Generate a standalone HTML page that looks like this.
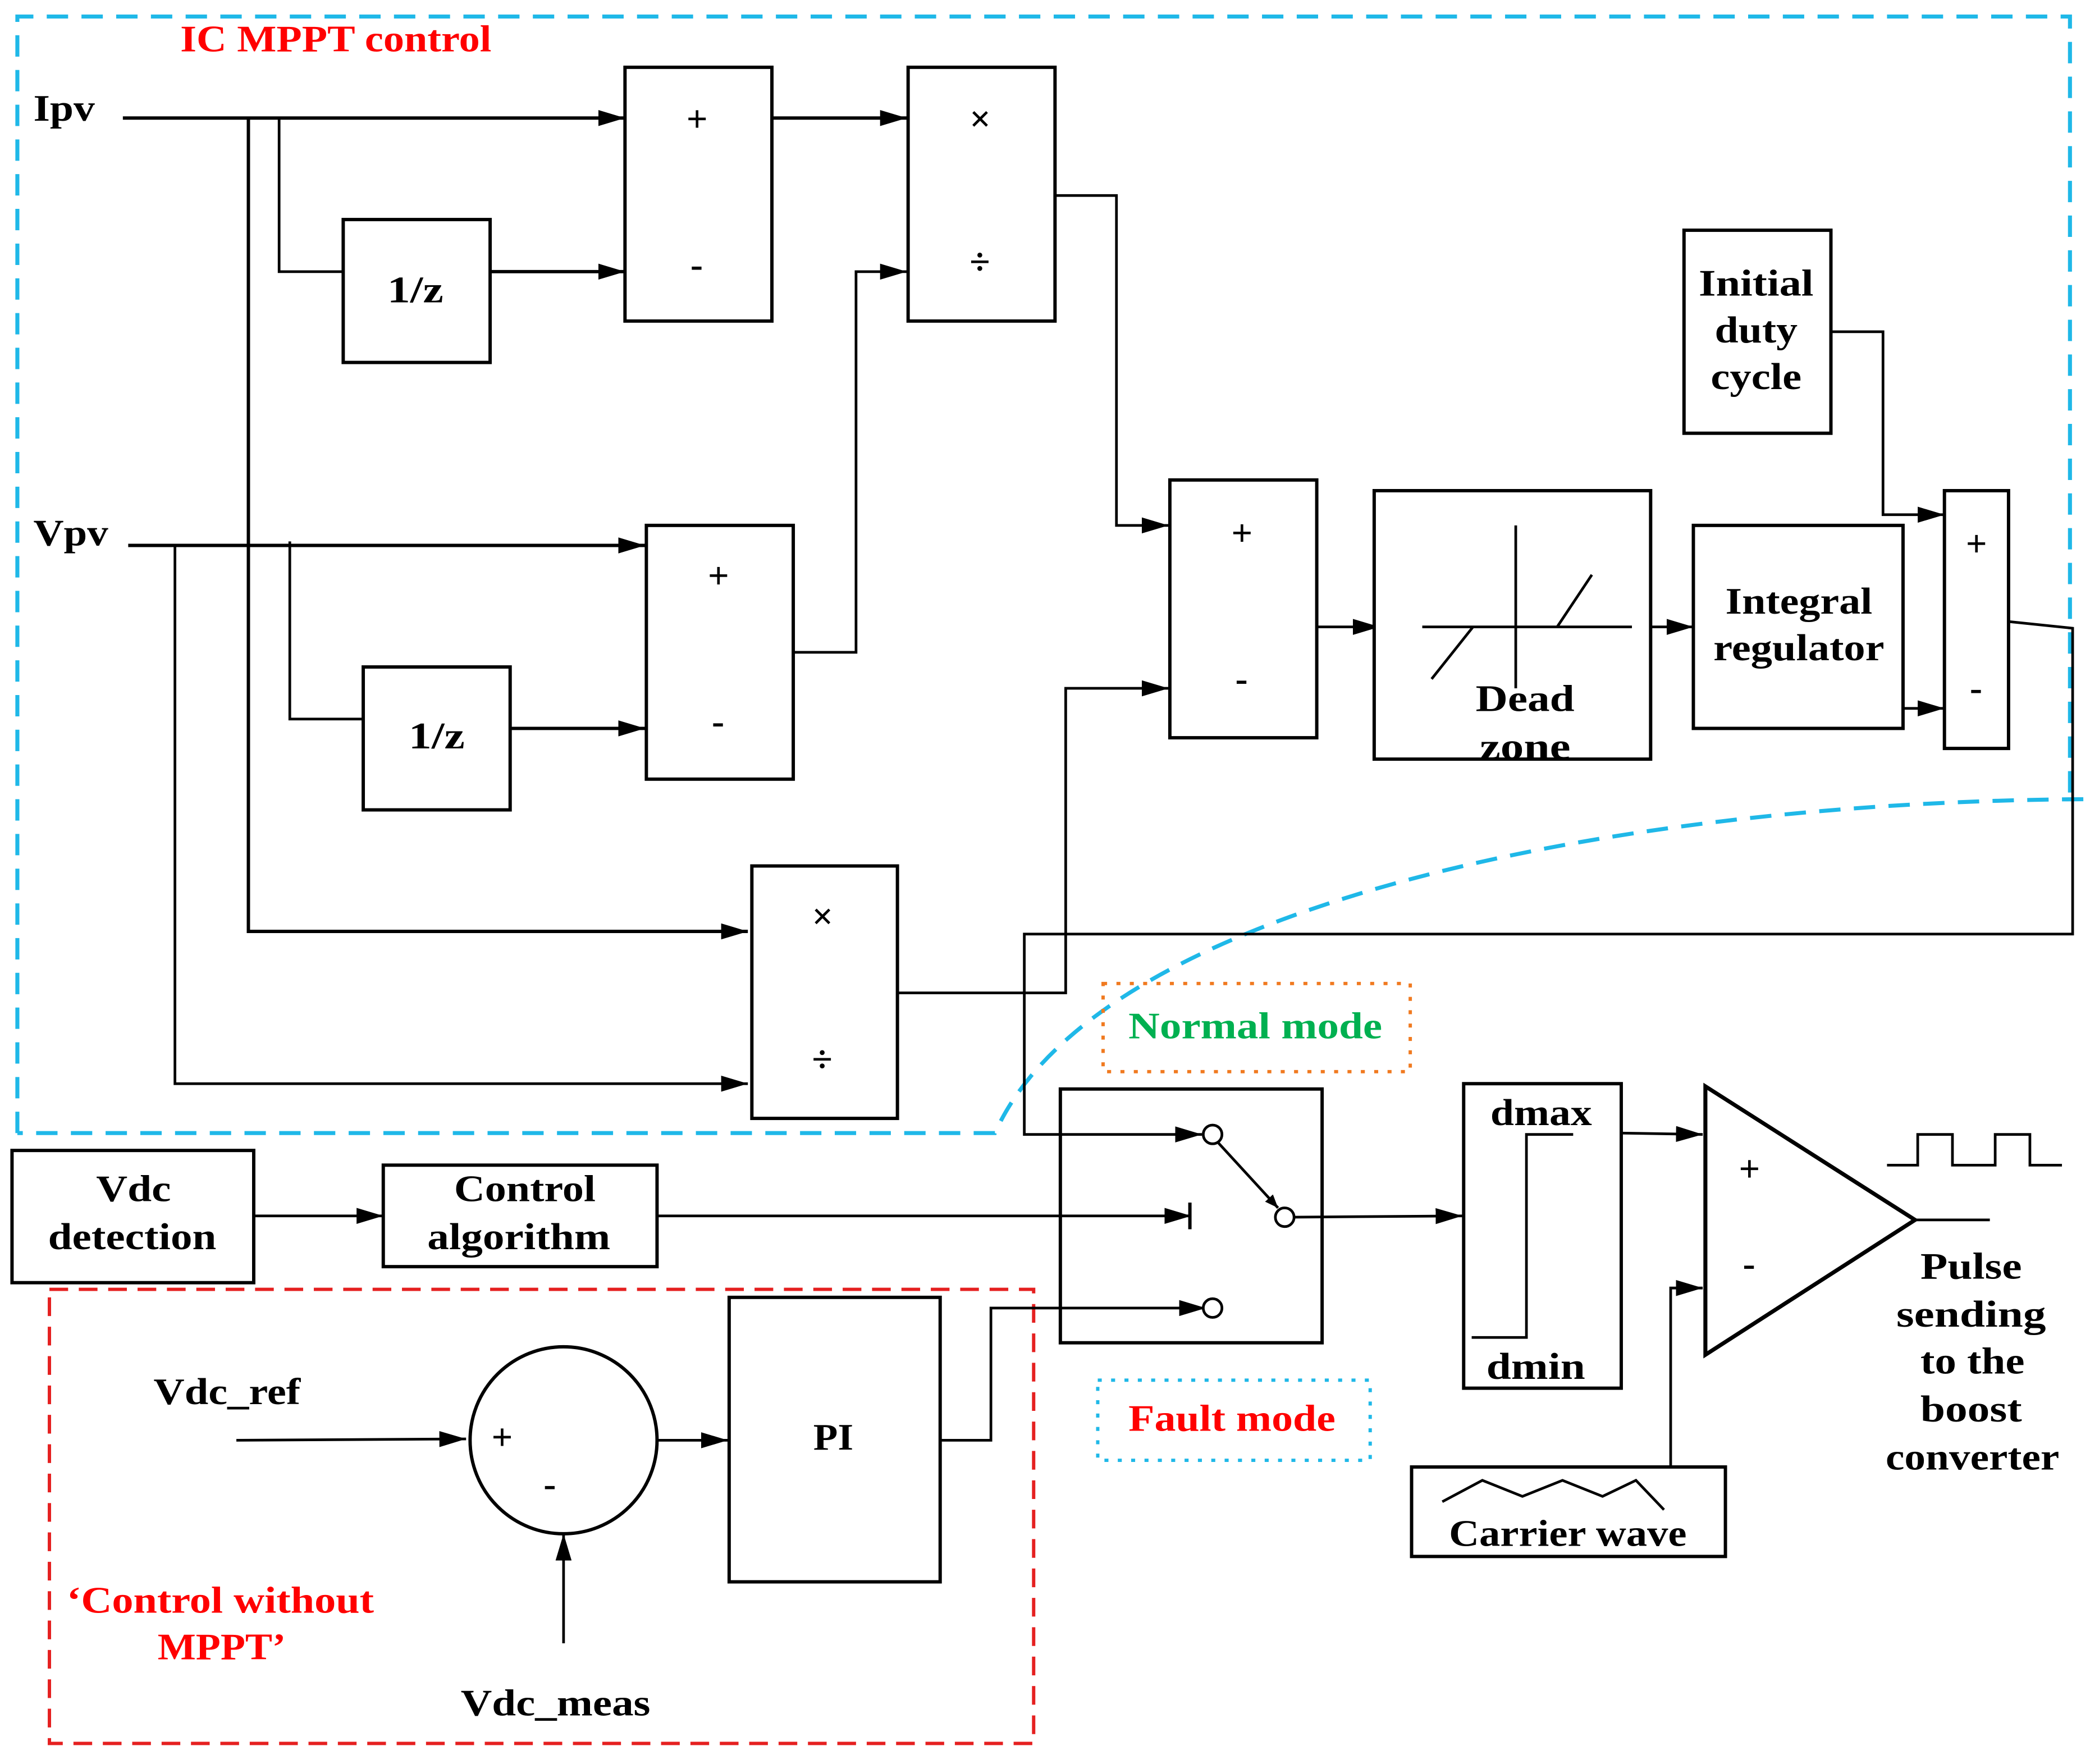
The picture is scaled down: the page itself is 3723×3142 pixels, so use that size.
<!DOCTYPE html>
<html><head><meta charset="utf-8"><style>html,body{margin:0;padding:0;background:#fff}svg{display:block}</style></head>
<body>
<svg xmlns="http://www.w3.org/2000/svg" width="3723" height="3142" viewBox="0 0 1565 1320">
<defs>
<marker id="a" markerWidth="10" markerHeight="8" refX="10" refY="4" orient="auto" markerUnits="userSpaceOnUse" viewBox="0 0 10 8"><path d="M0,0 L10,4 L0,8 Z" fill="#000"/></marker>
<marker id="b" markerWidth="20" markerHeight="12" refX="20" refY="6" orient="auto" markerUnits="userSpaceOnUse" viewBox="0 0 20 12"><path d="M0,0 L20,6 L0,12 Z" fill="#000"/></marker>
</defs>
<style>
text{font-family:"Liberation Serif",serif;font-weight:bold;font-size:28px}
.l{fill:none;stroke:#000;stroke-width:2.5}
.t{fill:none;stroke:#000;stroke-width:2}
.bx{fill:#fff;stroke:#000;stroke-width:2.5}
</style>
<path d="M13,848 L13,12 L1550,12 L1550,598" fill="none" stroke="#1fb8e8" stroke-width="3" stroke-dasharray="16,10"/>
<path d="M1560,598 C1200,600 820,680 745,848 L13,848" fill="none" stroke="#1fb8e8" stroke-width="3" stroke-dasharray="16,10"/>
<text x="135" y="38" fill="#f00" textLength="233" lengthAdjust="spacingAndGlyphs">IC MPPT control</text>
<rect x="37" y="965" width="737" height="340" fill="none" stroke="#e52020" stroke-width="2.5" stroke-dasharray="14,8"/>
<text x="50" y="1207" fill="#f00" textLength="230" lengthAdjust="spacingAndGlyphs">‘Control without</text>
<text x="118" y="1242" fill="#f00" textLength="96" lengthAdjust="spacingAndGlyphs">MPPT’</text>
<rect x="826" y="736" width="230" height="66" fill="none" stroke="#f07a20" stroke-width="2.5" stroke-dasharray="3,7"/>
<text x="845" y="777" fill="#00b050" textLength="190" lengthAdjust="spacingAndGlyphs">Normal mode</text>
<rect x="822" y="1033" width="204" height="60" fill="none" stroke="#1fb8e8" stroke-width="2.5" stroke-dasharray="3,7"/>
<text x="845" y="1071" fill="#f00" textLength="155" lengthAdjust="spacingAndGlyphs">Fault mode</text>

<text x="25" y="90" textLength="46" lengthAdjust="spacingAndGlyphs">Ipv</text>
<text x="25" y="408" textLength="56" lengthAdjust="spacingAndGlyphs">Vpv</text>

<rect class="bx" x="794" y="815" width="196" height="190" fill="none" style="fill:none"/>

<path class="l" d="M92,88 L468,88" marker-end="url(#b)"/>
<path class="l" d="M186,88 L186,697 L560,697" marker-end="url(#b)"/>
<path class="t" d="M209,88 L209,203 L257,203"/>
<path class="l" d="M367,203 L468,203" marker-end="url(#b)"/>
<path class="l" d="M96,408 L483,408" marker-end="url(#b)"/>
<path class="t" d="M131,408 L131,811 L560,811" marker-end="url(#b)"/>
<path class="t" d="M217,405 L217,538 L272,538"/>
<path class="l" d="M382,545 L483,545" marker-end="url(#b)"/>
<path class="l" d="M578,88 L679,88" marker-end="url(#b)"/>
<path class="t" d="M594,488 L641,488 L641,203 L679,203" marker-end="url(#b)"/>
<path class="t" d="M790,146 L836,146 L836,393 L875,393" marker-end="url(#b)"/>
<path class="t" d="M672,743 L798,743 L798,515 L875,515" marker-end="url(#b)"/>
<path class="t" d="M986,469 L1033,469" marker-end="url(#b)"/>
<path class="t" d="M1236,469 L1268,469" marker-end="url(#b)"/>
<path class="t" d="M1371,248 L1410,248 L1410,385 L1456,385" marker-end="url(#b)"/>
<path class="t" d="M1425,530 L1456,530" marker-end="url(#b)"/>
<path class="t" d="M1504,465 L1552,470 L1552,699 L767,699 L767,849 L900,849" marker-end="url(#b)"/>
<path class="t" d="M190,910 L287,910" marker-end="url(#b)"/>
<path class="t" d="M492,910 L892,910" marker-end="url(#b)"/>
<path class="l" d="M891,900 L891,920"/>
<path class="t" d="M704,1078 L742,1078 L742,979 L903,979" marker-end="url(#b)"/>
<path class="t" d="M962,911 L1095,910" marker-end="url(#b)"/>
<path class="t" d="M1214,848 L1275,849" marker-end="url(#b)"/>
<path class="t" d="M1251,1098 L1251,964 L1275,964" marker-end="url(#b)"/>
<path class="t" d="M177,1078 L349,1077" marker-end="url(#b)"/>
<path class="t" d="M492,1078 L545,1078" marker-end="url(#b)"/>
<path class="t" d="M422,1230 L422,1148" marker-end="url(#b)"/>
<path class="t" d="M1434,913 L1490,913"/>

<rect class="bx" x="468" y="50" width="110" height="190"/><text x="514" y="98" font-size="20">+</text><text x="517" y="207" font-size="22">-</text>
<rect class="bx" x="680" y="50" width="110" height="190"/><text x="726" y="98" font-size="20">×</text><text x="726" y="205" font-size="22">÷</text>
<rect class="bx" x="257" y="164" width="110" height="107"/><text x="290" y="226" textLength="42" lengthAdjust="spacingAndGlyphs">1/z</text>
<rect class="bx" x="484" y="393" width="110" height="190"/><text x="530" y="440" font-size="20">+</text><text x="533" y="549" font-size="22">-</text>
<rect class="bx" x="272" y="499" width="110" height="107"/><text x="306" y="560" textLength="42" lengthAdjust="spacingAndGlyphs">1/z</text>
<rect class="bx" x="563" y="648" width="109" height="189"/><text x="608" y="695" font-size="20">×</text><text x="608" y="802" font-size="22">÷</text>
<rect class="bx" x="876" y="359" width="110" height="193"/><text x="922" y="408" font-size="20">+</text><text x="925" y="517" font-size="22">-</text>
<rect class="bx" x="1029" y="367" width="207" height="201"/>
<path class="t" d="M1135,393 L1135,515 M1065,469 L1222,469 M1072,508 L1103,469 M1166,469 L1192,430"/>
<text x="1105" y="532" textLength="74" lengthAdjust="spacingAndGlyphs">Dead</text><text x="1108" y="568" textLength="68" lengthAdjust="spacingAndGlyphs">zone</text>
<rect class="bx" x="1268" y="393" width="157" height="152"/><text x="1292" y="459" textLength="110" lengthAdjust="spacingAndGlyphs">Integral</text><text x="1283" y="494" textLength="128" lengthAdjust="spacingAndGlyphs">regulator</text>
<rect class="bx" x="1261" y="172" width="110" height="152"/><text x="1272" y="221" textLength="86" lengthAdjust="spacingAndGlyphs">Initial</text><text x="1284" y="256" textLength="62" lengthAdjust="spacingAndGlyphs">duty</text><text x="1281" y="291" textLength="68" lengthAdjust="spacingAndGlyphs">cycle</text>
<rect class="bx" x="1456" y="367" width="48" height="193"/><text x="1472" y="416" font-size="20">+</text><text x="1475" y="524" font-size="22">-</text>

<rect class="bx" x="9" y="861" width="181" height="99"/><text x="72" y="899" textLength="56" lengthAdjust="spacingAndGlyphs">Vdc</text><text x="36" y="935" textLength="126" lengthAdjust="spacingAndGlyphs">detection</text>
<rect class="bx" x="287" y="872" width="205" height="76"/><text x="340" y="899" textLength="106" lengthAdjust="spacingAndGlyphs">Control</text><text x="320" y="935" textLength="137" lengthAdjust="spacingAndGlyphs">algorithm</text>

<circle cx="908" cy="849" r="7" fill="#fff" stroke="#000" stroke-width="2"/>
<circle cx="962" cy="911" r="7" fill="#fff" stroke="#000" stroke-width="2"/>
<circle cx="908" cy="979" r="7" fill="#fff" stroke="#000" stroke-width="2"/>
<path class="t" d="M912,855 L957,904" marker-end="url(#a)"/>

<rect class="bx" x="1096" y="811" width="118" height="228"/>
<path class="t" d="M1102,1001 L1143,1001 L1143,849 L1178,849"/>
<text x="1116" y="842" textLength="76" lengthAdjust="spacingAndGlyphs">dmax</text><text x="1113" y="1032" textLength="74" lengthAdjust="spacingAndGlyphs">dmin</text>

<path d="M1277,813 L1434,913 L1277,1014 Z" fill="#fff" stroke="#000" stroke-width="3"/>
<text x="1302" y="884" font-size="20">+</text><text x="1305" y="955" font-size="22">-</text>
<path class="t" d="M1413,872 L1436,872 L1436,849 L1462,849 L1462,872 L1494,872 L1494,849 L1520,849 L1520,872 L1544,872"/>
<text x="1438" y="957" textLength="76" lengthAdjust="spacingAndGlyphs">Pulse</text><text x="1420" y="993" textLength="112" lengthAdjust="spacingAndGlyphs">sending</text><text x="1438" y="1028" textLength="78" lengthAdjust="spacingAndGlyphs">to the</text><text x="1438" y="1064" textLength="76" lengthAdjust="spacingAndGlyphs">boost</text><text x="1412" y="1100" textLength="130" lengthAdjust="spacingAndGlyphs">converter</text>

<rect class="bx" x="1057" y="1098" width="235" height="67"/>
<path class="t" d="M1080,1124 L1110,1108 L1140,1120 L1170,1108 L1200,1120 L1225,1108 L1246,1130"/>
<text x="1085" y="1157" textLength="178" lengthAdjust="spacingAndGlyphs">Carrier wave</text>

<circle cx="422" cy="1078" r="70" fill="#fff" stroke="#000" stroke-width="2.5"/>
<text x="368" y="1085" font-size="20">+</text><text x="407" y="1120" font-size="22">-</text>
<rect class="bx" x="546" y="971" width="158" height="213"/><text x="609" y="1085" textLength="30" lengthAdjust="spacingAndGlyphs">PI</text>
<text x="115" y="1051" textLength="110" lengthAdjust="spacingAndGlyphs">Vdc_ref</text>
<text x="345" y="1284" textLength="142" lengthAdjust="spacingAndGlyphs">Vdc_meas</text>
</svg>
</body></html>
